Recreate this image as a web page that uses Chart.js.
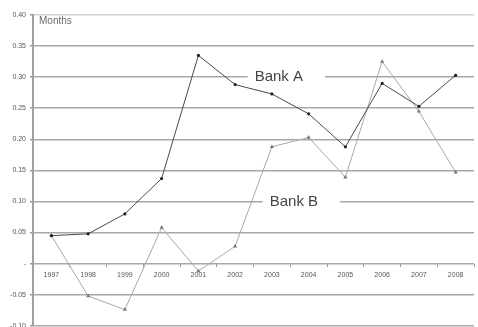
<!DOCTYPE html>
<html>
<head>
<meta charset="utf-8">
<script src="https://cdn.jsdelivr.net/npm/chart.js@4/dist/chart.umd.min.js"></script>
<style>
  html, body { margin: 0; padding: 0; background: #fff; overflow: hidden; }
  #wrap { width: 478px; height: 334px; }
</style>
</head>
<body>
<div id="wrap"><canvas id="c"></canvas></div>
<script>
const years = ['1997', '1998', '1999', '2000', '2001', '2002', '2003', '2004', '2005', '2006', '2007', '2008'];
const bankA = [0.045, 0.048, 0.080, 0.137, 0.335, 0.288, 0.273, 0.241, 0.188, 0.290, 0.253, 0.303];
const bankB = [0.045, -0.052, -0.074, 0.058, -0.012, 0.028, 0.188, 0.203, 0.139, 0.325, 0.245, 0.147];
const seriesLabels = [
  { text: 'Bank A', at: 6.19, value: 0.30 },
  { text: 'Bank B', at: 6.6, value: 0.10 },
];

const FONT = 'Liberation Sans, Arial, sans-serif';

// inline series names sitting on a gridline, plus the "Months" unit note
const labelPlugin = {
  id: 'inlineLabels',
  afterDatasetsDraw(chart) {
    const { ctx, chartArea, scales: { x, y } } = chart;
    ctx.save();
    ctx.font = '15px ' + FONT;
    ctx.textBaseline = 'middle';
    ctx.textAlign = 'center';
    seriesLabels.forEach(l => {
      const px = x.getPixelForValue(l.at);
      const py = y.getPixelForValue(l.value);
      const w = ctx.measureText(l.text).width;
      ctx.fillStyle = '#fff';
      ctx.fillRect(px - w / 2 - 7, py - 2, w + 29, 4);
      ctx.fillStyle = '#444';
      ctx.fillText(l.text, px, py);
    });
    ctx.font = '10px ' + FONT;
    ctx.textAlign = 'left';
    ctx.textBaseline = 'top';
    ctx.fillStyle = '#6a6a6a';
    ctx.fillText('Months', chartArea.left + 6, chartArea.top + 1);
    ctx.restore();
  },
};

new Chart(document.getElementById('c'), {
  type: 'line',
  data: {
    labels: years,
    datasets: [
      {
        label: 'Bank A',
        data: bankA,
        borderColor: '#4a4a4a',
        backgroundColor: '#222',
        borderWidth: 1,
        pointStyle: 'circle',
        pointRadius: 1.6,
        pointBorderWidth: 0,
        tension: 0,
      },
      {
        label: 'Bank B',
        data: bankB,
        borderColor: '#a8a8a8',
        backgroundColor: '#777',
        borderWidth: 1,
        pointStyle: 'triangle',
        pointRadius: 2.4,
        pointBorderWidth: 0,
        tension: 0,
      },
    ],
  },
  options: {
    responsive: true,
    maintainAspectRatio: false,
    animation: false,
    layout: { padding: { top: 15, right: 0, bottom: 0, left: 0 } },
    plugins: { legend: { display: false }, tooltip: { enabled: false } },
    scales: {
      x: {
        type: 'category',
        position: { y: 0 },
        offset: true,
        afterFit(s) { s.height = 0; },
        border: { display: false },
        grid: { display: true, drawOnChartArea: false, drawTicks: true, tickLength: 3, color: '#999', offset: true },
        ticks: { color: '#555', font: { size: 7, family: FONT }, padding: 4, maxRotation: 0, autoSkip: false },
      },
      y: {
        min: -0.10,
        max: 0.40,
        afterFit(s) { s.width = 33; },
        border: { display: true, color: '#a0a0a0', width: 2 },
        grid: {
          color: ctx => (ctx.tick && ctx.tick.value === 0.4 ? '#d0d0d0' : '#a8a8a8'),
          lineWidth: 1.6,
          drawTicks: true,
          tickLength: 3,
          tickColor: '#999',
        },
        ticks: {
          stepSize: 0.05,
          color: '#555',
          font: { size: 7, family: FONT },
          padding: 4,
          callback: v => (Math.abs(v) < 1e-9 ? '-' : v.toFixed(2)),
        },
      },
    },
  },
  plugins: [labelPlugin],
});
</script>
</body>
</html>
